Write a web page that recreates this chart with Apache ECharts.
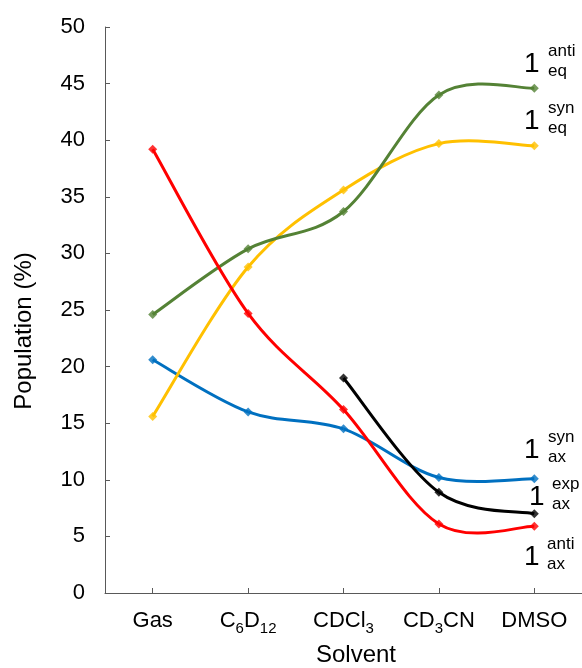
<!DOCTYPE html>
<html>
<head>
<meta charset="utf-8">
<script src="https://cdn.jsdelivr.net/npm/echarts@6/dist/echarts.min.js"></script>
<style>html,body{margin:0;padding:0;background:#fff;}#c{width:582px;height:668px;}</style>
</head>
<body>
<div id="c"></div>
<script>
var categories = ['Gas', 'C6D12', 'CDCl3', 'CD3CN', 'DMSO'];
var antiEq = [24.6, 30.4, 33.7, 44.0, 44.6];
var synEq  = [15.6, 28.8, 35.6, 39.7, 39.5];
var antiAx = [39.2, 24.7, 16.2, 6.1, 5.9];
var synAx  = [20.6, 16.0, 14.5, 10.2, 10.1];
var expAx  = [null, null, 19.0, 8.9, 7.0];
var yTicks = {min: 0, max: 50, interval: 5};
var labels = [
  {main: '1', sup: 'anti', sub: 'eq', x: 524, base: 74, tx: 548},
  {main: '1', sup: 'syn',  sub: 'eq', x: 524, base: 131, tx: 548},
  {main: '1', sup: 'syn',  sub: 'ax', x: 524, base: 460, tx: 548},
  {main: '1', sup: 'exp',  sub: 'ax', x: 529, base: 507, tx: 552},
  {main: '1', sup: 'anti', sub: 'ax', x: 524, base: 567, tx: 547}
];

var FONT = 'Liberation Sans, Arial, sans-serif';
var chart = echarts.init(document.getElementById('c'), null, {renderer: 'canvas'});

// Excel-like smoothed line (Catmull-Rom Bezier segments), drawn via the axis scales
function curveSeries(name, arr, color) {
  return {
    name: name, type: 'custom', coordinateSystem: 'cartesian2d',
    data: arr.map(function (v, i) { return [i, v == null ? '-' : v]; }),
    encode: {x: 0, y: 1},
    z: 2,
    renderItem: function (params, api) {
      var i = params.dataIndex;
      if (arr[i] == null || i + 1 >= arr.length || arr[i + 1] == null) return null;
      function P(j) {
        var k = j;
        if (k < 0 || arr[k] == null) k = (j < i) ? i : i + 1;
        if (k >= arr.length || arr[k] == null) k = i + 1;
        return api.coord([k, arr[k]]);
      }
      var p0 = P(i - 1), p1 = P(i), p2 = P(i + 1), p3 = P(i + 2);
      var t = 1 / 6;
      return {
        type: 'bezierCurve',
        shape: {
          x1: p1[0], y1: p1[1], x2: p2[0], y2: p2[1],
          cpx1: p1[0] + (p2[0] - p0[0]) * t, cpy1: p1[1] + (p2[1] - p0[1]) * t,
          cpx2: p2[0] - (p3[0] - p1[0]) * t, cpy2: p2[1] - (p3[1] - p1[1]) * t
        },
        style: {stroke: color, lineWidth: 3, fill: null}
      };
    }
  };
}
function markerSeries(name, arr, color) {
  return {
    name: name, type: 'scatter', z: 3,
    data: arr.map(function (v) { return v == null ? '-' : v; }),
    symbol: 'diamond', symbolSize: 9,
    itemStyle: {color: color}
  };
}

var graphics = [];
labels.forEach(function (l) {
  graphics.push({type: 'text', x: l.x, y: l.base - 0.36 * 28, style: {text: l.main, font: '28px ' + FONT, fill: '#000', verticalAlign: 'middle'}});
  graphics.push({type: 'text', x: l.tx, y: l.base - 17 - 0.36 * 17, style: {text: l.sup, font: '17px ' + FONT, fill: '#000', verticalAlign: 'middle'}});
  graphics.push({type: 'text', x: l.tx, y: l.base + 3 - 0.36 * 17, style: {text: l.sub, font: '17px ' + FONT, fill: '#000', verticalAlign: 'middle'}});
});
graphics.push({type: 'text', x: 24, y: 331, rotation: Math.PI / 2, style: {text: 'Population (%)', font: '24px ' + FONT, fill: '#000', align: 'center', verticalAlign: 'middle'}});
graphics.push({type: 'text', x: 356, y: 655, style: {text: 'Solvent', font: '24px ' + FONT, fill: '#000', align: 'center', verticalAlign: 'middle'}});

var series = [];
[['syn ax', synAx, '#0070C0'], ['syn eq', synEq, '#FFC000'], ['anti eq', antiEq, '#548235'],
 ['anti ax', antiAx, '#FF0000'], ['exp ax', expAx, '#000000']].forEach(function (s) {
  series.push(curveSeries(s[0], s[1], s[2]));
});
[['syn ax', synAx, '#0070C0'], ['syn eq', synEq, '#FFC000'], ['anti eq', antiEq, '#548235'],
 ['anti ax', antiAx, '#FF0000'], ['exp ax', expAx, '#000000']].forEach(function (s) {
  series.push(markerSeries(s[0], s[1], s[2]));
});

chart.setOption({
  animation: false,
  backgroundColor: '#fff',
  grid: {left: 105, top: 27, width: 480, bottom: 75, containLabel: false},
  xAxis: {
    type: 'category', data: categories, boundaryGap: true,
    axisLine: {lineStyle: {color: '#595959', width: 1}},
    axisTick: {show: true, inside: true, length: 5, alignWithLabel: true, lineStyle: {color: '#595959'}},
    axisLabel: {
      margin: 13, interval: 0,
      formatter: function (v) { return '{n|' + v.replace(/(\d+)/g, '}{s|$1}{n|') + '}'; },
      rich: {
        n: {fontSize: 22, fontFamily: FONT, color: '#000', lineHeight: 30},
        s: {fontSize: 15, fontFamily: FONT, color: '#000', lineHeight: 10, verticalAlign: 'bottom'}
      }
    },
    splitLine: {show: false}
  },
  yAxis: {
    type: 'value', min: yTicks.min, max: yTicks.max, interval: yTicks.interval,
    axisLine: {show: true, lineStyle: {color: '#595959', width: 1}},
    axisTick: {show: true, inside: true, length: 5, lineStyle: {color: '#595959'}},
    axisLabel: {fontSize: 22, fontFamily: FONT, color: '#000', margin: 20},
    splitLine: {show: false}
  },
  graphic: graphics,
  series: series
});
</script>
</body>
</html>
